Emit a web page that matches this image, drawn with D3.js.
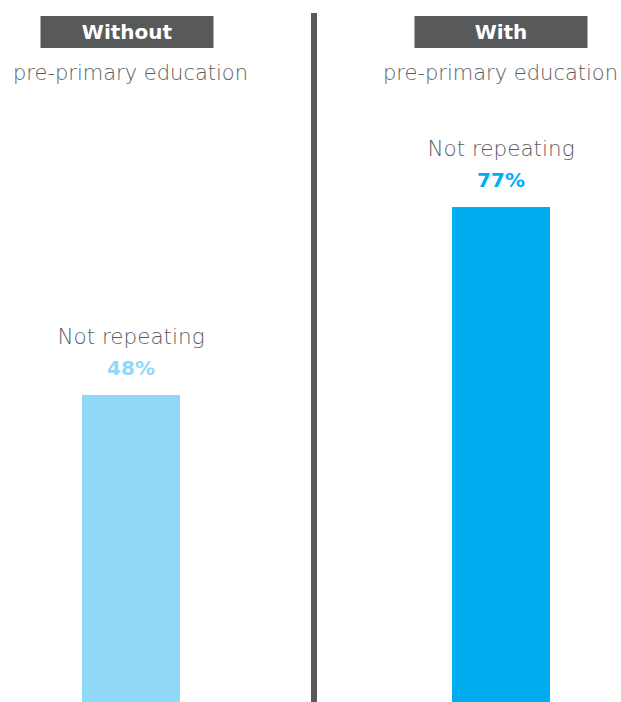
<!DOCTYPE html>
<html>
<head>
<meta charset="utf-8">
<script src="https://cdn.jsdelivr.net/npm/d3@7"></script>
<style>
  body { margin: 0; background: #fff; }
  svg { display: block; font-family: "DejaVu Sans", "Open Sans", sans-serif; }
</style>
</head>
<body>
<div id="chart"></div>
<script>
// data
const groups = ["Without", "With"];
const subtitles = ["pre-primary education", "pre-primary education"];
const barLabels = ["Not repeating", "Not repeating"];
const values = [48, 77];
const colors = ["#8fd8f7", "#00aeef"];

const width = 621, height = 702;

const svg = d3.select("#chart").append("svg")
    .attr("width", width)
    .attr("height", height);

const x = d3.scalePoint()
    .domain(groups)
    .range([131, 501]);

// baseline sits just below the picture edge
const y = d3.scaleLinear()
    .domain([0, 100])
    .range([706, 58]);

const barWidth = 98;

// divider
svg.append("rect")
    .attr("x", 311)
    .attr("y", 13)
    .attr("width", 6)
    .attr("height", height - 13)
    .attr("fill", "#58595b");

const panel = svg.selectAll(".panel")
    .data(groups)
    .join("g")
    .attr("class", "panel");

// header boxes
panel.append("rect")
    .attr("x", (d, i) => (i === 0 ? 127 : 501) - 86.5)
    .attr("y", 16)
    .attr("width", 173)
    .attr("height", 32)
    .attr("fill", "#58595b");

panel.append("text")
    .attr("x", (d, i) => i === 0 ? 127 : 501)
    .attr("y", 39)
    .attr("text-anchor", "middle")
    .attr("fill", "#fff")
    .attr("font-weight", 700)
    .attr("font-size", 20)
    .text(d => d);

panel.append("text")
    .attr("x", d => x(d) - 0.5)
    .attr("y", 80)
    .attr("text-anchor", "middle")
    .attr("fill", "#5c5d60")
    .attr("font-weight", 200)
    .attr("font-size", 21)
    .text((d, i) => subtitles[i]);

// bars
panel.append("rect")
    .attr("x", d => x(d) - barWidth / 2)
    .attr("y", (d, i) => y(values[i]))
    .attr("width", barWidth)
    .attr("height", (d, i) => y(0) - y(values[i]))
    .attr("fill", (d, i) => colors[i]);

panel.append("text")
    .attr("x", d => x(d))
    .attr("y", (d, i) => y(values[i]) - 51)
    .attr("text-anchor", "middle")
    .attr("fill", "#5c5d60")
    .attr("font-weight", 200)
    .attr("font-size", 21.5)
    .text((d, i) => barLabels[i]);

panel.append("text")
    .attr("x", d => x(d))
    .attr("y", (d, i) => y(values[i]) - 20)
    .attr("text-anchor", "middle")
    .attr("fill", (d, i) => colors[i])
    .attr("font-weight", 700)
    .attr("font-size", 20)
    .text((d, i) => values[i] + "%");
</script>
</body>
</html>
